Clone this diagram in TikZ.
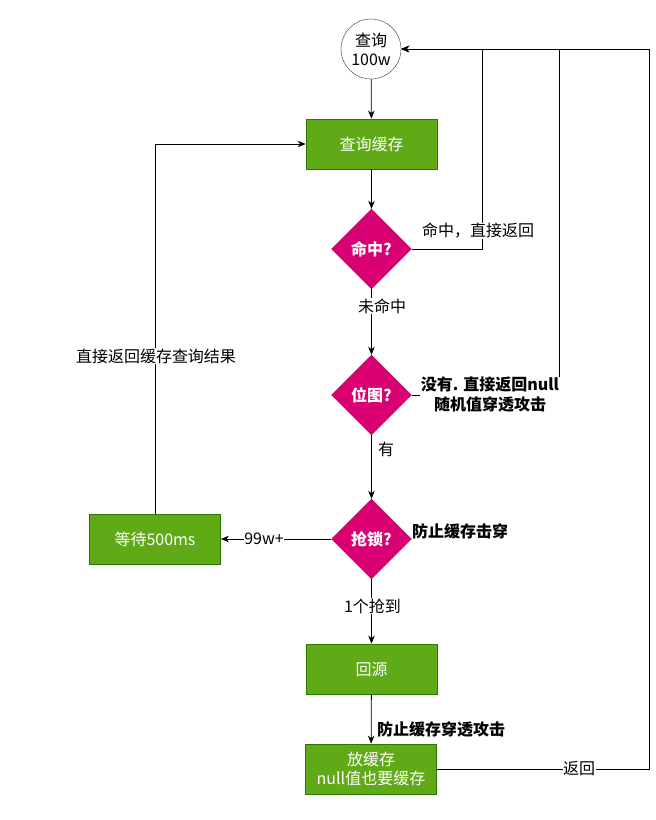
\documentclass[tikz,border=0pt]{standalone}
\usepackage{fontspec}
\setmainfont{Noto Sans CJK SC}
\usetikzlibrary{arrows.meta,shapes.geometric}
\definecolor{gfill}{HTML}{60A917}
\definecolor{gline}{HTML}{2D7600}
\definecolor{pfill}{HTML}{D80073}
\definecolor{pline}{HTML}{A50040}
\tikzset{
  base/.style={font=\fontsize{16}{19}\selectfont, align=center, inner sep=1pt},
  gbox/.style={base, draw=gline, fill=gfill, text=white, minimum width=131, minimum height=50, line width=0.8pt},
  dia/.style={base, diamond, aspect=1, draw=pline, fill=pfill, text=white, minimum size=80, inner sep=0pt, font=\fontsize{16}{19}\selectfont\bfseries},
  circ/.style={base, circle, draw=black!80, fill=white, minimum size=60, inner sep=0pt},
  lbl/.style={base, fill=white, inner sep=0.5pt},
  blbl/.style={base, font=\fontsize{16}{19}\selectfont\bfseries, inner sep=0.5pt},
  arr/.style={draw=black, line width=0.8pt, -{Stealth[length=8pt,width=6.5pt,inset=2.5pt]}},
  ln/.style={draw=black, line width=0.8pt}
}
\begin{document}
\begin{tikzpicture}[x=1pt,y=-1pt]
\useasboundingbox (0,0) rectangle (656,820);
\node[circ] (q) at (371,49) {查询\\100w};
\node[gbox] (c) at (371.5,144) {查询缓存};
\node[dia] (hit) at (371.5,249) {命中?};
\node[dia] (bm) at (371.5,395) {位图?};
\node[dia] (lock) at (371.5,539) {抢锁?};
\node[gbox] (wait) at (155,539) {等待500ms};
\node[gbox] (src) at (371.5,669) {回源};
\node[gbox] (put) at (371,769) {放缓存\\null值也要缓存};

\coordinate (h2) at (482,49);
\coordinate (b2) at (559,49);
\coordinate (r2) at (649,49);

\draw[arr] (q) -- (c);
\draw[arr] (c) -- (hit);
\draw[arr] (hit) -- (bm);
\draw[arr] (bm) -- (lock);
\draw[arr] (lock) -- (src);
\draw[arr] (src) -- (put);
\draw[arr] (lock.west) -- (wait.east);
\draw[arr] (wait.north) |- (c.west);
\draw[arr] (hit.east) -| (h2) -- (q.east);
\draw[arr] (bm.east) -| (b2) -- (q.east);
\draw[arr] (put.east) -| (r2) -- (q.east);

\node[lbl] (l1) at (478,231) {命中，直接返回};
\node[lbl] (l2) at (382,306) {未命中};
\node[base, fill=white, inner sep=0.5pt, font=\fontsize{16}{20}\selectfont\bfseries] (l3) at (490,395) {没有. 直接返回null\\随机值穿透攻击};
\node[base] (l4) at (386,449) {有};
\node[lbl] (l5) at (264,539) {99w+};
\node[blbl] (l6) at (460,531) {防止缓存击穿};
\node[lbl] (l7) at (372.5,606) {1个抢到};
\node[blbl] (l8) at (441,729) {防止缓存穿透攻击};
\node[lbl] (l9) at (579,769) {返回};
\node[lbl] (l10) at (156,356) {直接返回缓存查询结果};
\end{tikzpicture}
\end{document}
